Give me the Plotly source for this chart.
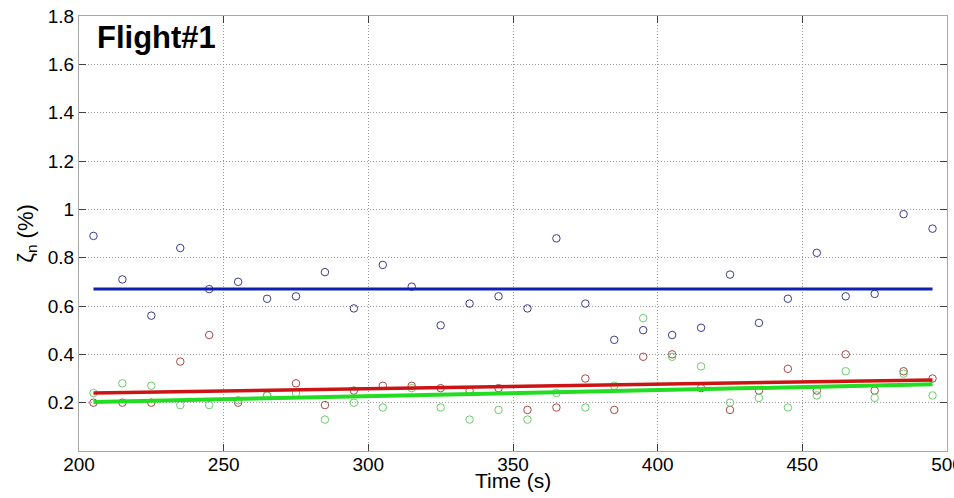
import plotly.graph_objects as go

# Data
time_s = [205, 215, 225, 235, 245, 255, 265, 275, 285, 295,
          305, 315, 325, 335, 345, 355, 365, 375, 385, 395,
          405, 415, 425, 435, 445, 455, 465, 475, 485, 495]
blue_pts = [0.89, 0.71, 0.56, 0.84, 0.67, 0.70, 0.63, 0.64, 0.74, 0.59,
            0.77, 0.68, 0.52, 0.61, 0.64, 0.59, 0.88, 0.61, 0.46, 0.50,
            0.48, 0.51, 0.73, 0.53, 0.63, 0.82, 0.64, 0.65, 0.98, 0.92]
red_pts = [0.20, 0.20, 0.20, 0.37, 0.48, 0.20, 0.23, 0.28, 0.19, 0.25,
           0.27, 0.27, 0.26, 0.25, 0.26, 0.17, 0.18, 0.30, 0.17, 0.39,
           0.40, 0.26, 0.17, 0.25, 0.34, 0.25, 0.40, 0.25, 0.33, 0.30]
green_pts = [0.24, 0.28, 0.27, 0.19, 0.19, 0.21, 0.23, 0.24, 0.13, 0.20,
             0.18, 0.26, 0.18, 0.13, 0.17, 0.13, 0.24, 0.18, 0.27, 0.55,
             0.39, 0.35, 0.20, 0.22, 0.18, 0.23, 0.33, 0.22, 0.32, 0.23]

fit_t = [205, 495]
blue_fit = [0.67, 0.67]
red_fit = [0.240, 0.294]
green_fit = [0.203, 0.276]

x_ticks = [200, 250, 300, 350, 400, 450, 500]
y_ticks = [0.2, 0.4, 0.6, 0.8, 1.0, 1.2, 1.4, 1.6, 1.8]
y_tick_text = ["0.2", "0.4", "0.6", "0.8", "1", "1.2", "1.4", "1.6", "1.8"]

fig = go.Figure()

for vals, col in [(blue_pts, "#3c3c8c"), (red_pts, "#a84848"), (green_pts, "#6ccc6c")]:
    fig.add_trace(go.Scatter(
        x=time_s, y=vals, mode="markers",
        marker=dict(symbol="circle-open", size=7.5, color=col, line=dict(width=1, color=col)),
        showlegend=False, hoverinfo="skip"))

for vals, col, w in [(blue_fit, "#1020b4", 3), (red_fit, "#cc1414", 3.5), (green_fit, "#22dd22", 4)]:
    fig.add_trace(go.Scatter(
        x=fit_t, y=vals, mode="lines", line=dict(color=col, width=w),
        showlegend=False, hoverinfo="skip"))

axis_common = dict(
    showline=True, linecolor="#a8a8a8", linewidth=1, mirror="ticks",
    ticks="inside", ticklen=7, tickcolor="#404040", tickwidth=1,
    showgrid=True, gridcolor="#9a9a9a", griddash="1px,2px", gridwidth=1,
    zeroline=False, tickfont=dict(family="Arial, Liberation Sans", size=19, color="#000"),
    ticklabeloverflow="allow",
)

fig.update_xaxes(
    range=[200, 500], tickvals=x_ticks, automargin=False, ticklabelstandoff=-4,
    **axis_common)
fig.update_yaxes(
    range=[0, 1.8], tickvals=y_ticks, ticktext=y_tick_text, automargin=False,
    title=dict(text="ζ<sub>n</sub> (%)", font=dict(family="Arial, Liberation Sans", size=22, color="#000"), standoff=8),
    **axis_common)

fig.add_annotation(
    text="Time (s)", xref="paper", yref="paper", x=0.5, y=-0.067,
    xanchor="center", yanchor="middle", showarrow=False,
    font=dict(family="Arial, Liberation Sans", size=21, color="#000"))

fig.add_annotation(
    text="<b>Flight#1</b>", xref="paper", yref="paper", x=0.019, y=0.95,
    xanchor="left", yanchor="middle", showarrow=False,
    font=dict(family="Arial, Liberation Sans", size=31, color="#000"))

fig.update_layout(
    width=954, height=498,
    margin=dict(l=79, r=7, t=16, b=47),
    plot_bgcolor="white", paper_bgcolor="white",
)

fig.write_html("out.html")
